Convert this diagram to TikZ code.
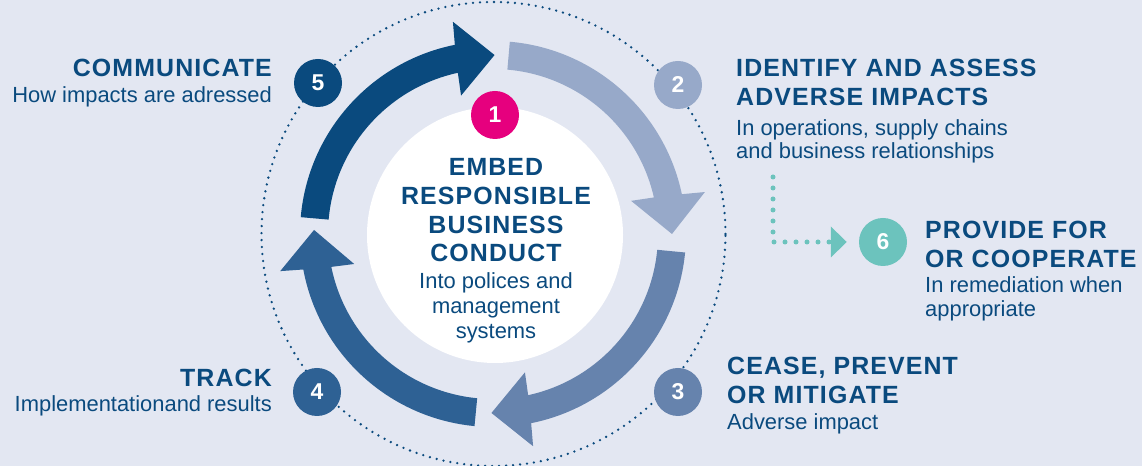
\documentclass[tikz,border=0pt]{standalone}
\usepackage{fontspec}
\setmainfont{Liberation Sans}
\newfontfamily\headfont{Liberation Sans}[LetterSpace=4.5]
\usetikzlibrary{arrows.meta}

\definecolor{bg}{HTML}{E3E7F2}
\definecolor{navy}{HTML}{0A4A7E}
\definecolor{stepA}{HTML}{97A9C9}
\definecolor{stepB}{HTML}{6683AD}
\definecolor{stepC}{HTML}{2E6194}
\definecolor{pinkish}{HTML}{E6007E}
\definecolor{tealsix}{HTML}{6CC3BD}

% curved ring arrow around the origin: colour, tail angle, tip angle (clockwise)
\newcommand\ringarrow[3]{%
  \fill[#1] (#2:193) arc[start angle=#2, end angle={#3+11.9}, radius=193]
    -- ({#3+11.2}:216) -- (#3:179) -- ({#3+13.5}:142) -- ({#3+12.8}:165)
    arc[start angle={#3+12.8}, end angle=#2, radius=165] -- cycle;}

\tikzset{
  title/.style={font=\headfont\bfseries\fontsize{25}{30}\selectfont, text=navy, inner sep=0pt},
  sub/.style={font=\fontsize{22}{23.5}\selectfont, text=navy, inner sep=0pt},
  badge/.style={circle, minimum size=48bp, inner sep=0pt, text=white,
    font=\bfseries\fontsize{23}{23}\selectfont},
  ringdots/.style={navy, line width=2.6bp, line cap=round, dash pattern=on 0bp off 7bp},
  tealdots/.style={tealsix, line width=5bp, line cap=round, dash pattern=on 0bp off 11bp},
}

\begin{document}
\begin{tikzpicture}[x=1bp, y=1bp]
  \useasboundingbox (0,0) rectangle (1142,466);
  \fill[bg] (0,0) rectangle (1142,466);

  % dotted orbit through the step badges
  \draw[ringdots] (493.5,232) circle[radius=232];

  % the four cycle arrows
  \begin{scope}[shift={(493,232)}]
    \ringarrow{navy}{175}{89.5}
    \ringarrow{stepA}{85}{0}
    \ringarrow{stepB}{-5.5}{-90.5}
    \ringarrow{stepC}{-95.5}{-181.3}
  \end{scope}

  % centre disc
  \fill[white] (495,231) circle[radius=128];

  % step badges
  \node[badge, fill=pinkish] (b1) at (495,351) {1};
  \node[badge, fill=stepA]   (b2) at (678,381) {2};
  \node[badge, fill=stepB]   (b3) at (678,74)  {3};
  \node[badge, fill=stepC]   (b4) at (317,74)  {4};
  \node[badge, fill=navy]    (b5) at (318,383) {5};
  \node[badge, fill=tealsix] (b6) at (883,224) {6};

  % texts (multi-line nodes sit on the baseline of their last line)
  \node[title, align=center, anchor=base, font=\headfont\bfseries\fontsize{25}{29}\selectfont]
    (t1) at (496,204) {EMBED\\RESPONSIBLE\\BUSINESS\\CONDUCT};
  \node[sub, align=center, anchor=base, font=\fontsize{22}{25.5}\selectfont] (s1) at (496,127)
    {Into polices and\\management\\systems};

  \node[title, anchor=base east] (t5) at (272,389) {COMMUNICATE};
  \node[sub, anchor=base east] (s5) at (272,363) {How impacts are adressed};

  \node[title, anchor=base east] (t4) at (272,79) {TRACK};
  \node[sub, anchor=base east] (s4) at (272,54) {Implementationand results};

  \node[title, align=left, anchor=base west] (t2) at (736,360)
    {IDENTIFY AND ASSESS\\ADVERSE IMPACTS};
  \node[sub, align=left, anchor=base west] (s2) at (736,307)
    {In operations, supply chains\\and business relationships};

  \node[title, align=left, anchor=base west] (t6) at (925,198)
    {PROVIDE FOR\\OR COOPERATE};
  \node[sub, align=left, anchor=base west, font=\fontsize{22}{25}\selectfont] (s6) at (925,149)
    {In remediation when\\appropriate};

  \node[title, align=left, anchor=base west] (t3) at (727,62)
    {CEASE, PREVENT\\OR MITIGATE};
  \node[sub, anchor=base west] (s3) at (727,36) {Adverse impact};

  % remediation branch
  \coordinate (c6) at (773,289);
  \draw[tealdots, -{Triangle[length=16bp, width=30bp]}, shorten >=12bp] (c6) |- (b6);
\end{tikzpicture}
\end{document}
